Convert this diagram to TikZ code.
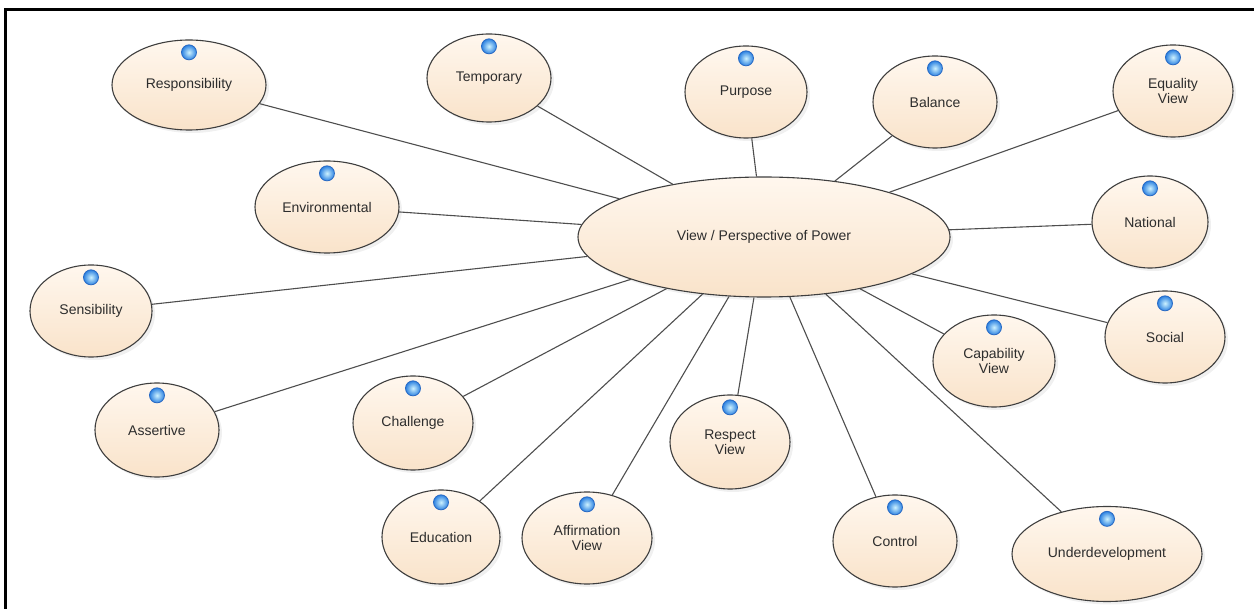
\documentclass[tikz,border=0pt]{standalone}
\usepackage{fontspec}
\setmainfont{Liberation Sans}
\usetikzlibrary{shapes.geometric,shadows,positioning}

\definecolor{rim}{RGB}{62,62,62}
\definecolor{peachtop}{RGB}{255,247,238}
\definecolor{peachbot}{RGB}{249,227,202}
\definecolor{wire}{RGB}{78,78,78}
\definecolor{ink}{RGB}{45,45,45}
\definecolor{beadcore}{RGB}{205,242,255}
\definecolor{beadedge}{RGB}{45,130,225}
\definecolor{beadring}{RGB}{40,105,195}

\tikzset{
    topic/.style={ellipse, draw=rim, line width=1.1pt, top color=peachtop, bottom color=peachbot,
        inner sep=0pt, minimum width=122pt, minimum height=92pt, align=center, text=ink,
        font=\fontsize{14}{15}\selectfont,
        drop shadow={opacity=0.12, shadow xshift=3pt, shadow yshift=-3pt}},
    bead/.style={circle, inner sep=0pt, minimum size=15pt, draw=beadring, line width=0.8pt,
        inner color=beadcore, outer color=beadedge},
    wire/.style={draw=wire, line width=1.1pt},
}

\begin{document}
\begin{tikzpicture}[x=1pt, y=-1pt]
    \useasboundingbox (0,0) rectangle (1254,609);
    \draw[line width=3pt, black] (5.5,609) -- (5.5,10) -- (1254,10); %frame

    \node[topic, minimum width=372pt, minimum height=120pt] (power) at (764,237) {View / Perspective of Power};

    \node[topic, minimum width=154pt, minimum height=90pt] (responsibility) at (189,85) {Responsibility};
    \node[topic, minimum width=124pt, minimum height=88pt] (temporary) at (489,78) {Temporary};
    \node[topic] (purpose) at (746,92) {Purpose};
    \node[topic, minimum width=124pt] (balance) at (935,102) {Balance};
    \node[topic, minimum width=120pt] (equality) at (1173,91) {Equality\\View};
    \node[topic, minimum width=144pt] (environmental) at (327,207) {Environmental};
    \node[topic, minimum width=116pt] (national) at (1150,222) {National};
    \node[topic] (sensibility) at (91,311) {Sensibility};
    \node[topic, minimum width=120pt] (social) at (1165,337) {Social};
    \node[topic] (capability) at (994,361) {Capability\\View};
    \node[topic, minimum width=124pt, minimum height=94pt] (assertive) at (157,430) {Assertive};
    \node[topic, minimum width=120pt, minimum height=94pt] (challenge) at (413,423) {Challenge};
    \node[topic, minimum width=120pt, minimum height=94pt] (respect) at (730,442) {Respect\\View};
    \node[topic, minimum width=118pt, minimum height=94pt] (education) at (441,537) {Education};
    \node[topic, minimum width=130pt] (affirmation) at (587,538) {Affirmation\\View};
    \node[topic, minimum width=124pt] (control) at (895,541) {Control};
    \node[topic, minimum width=190pt, minimum height=95pt] (underdev) at (1107,554) {Underdevelopment};

    % spokes and the blue beads on top of every topic
    \foreach \t in {responsibility, temporary, purpose, balance, equality, environmental, national,
        sensibility, social, capability, assertive, challenge, respect, education, affirmation,
        control, underdev}{
        \draw[wire] (power) -- (\t);
        \node[bead, below=5pt of \t.north] (\t-bead) {};
    }
\end{tikzpicture}
\end{document}
